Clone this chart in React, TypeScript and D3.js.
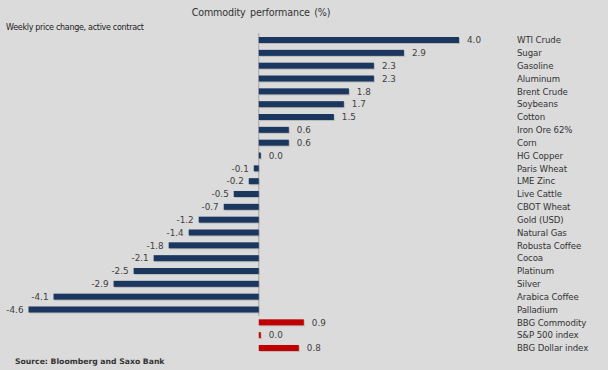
import React from "react";
import * as d3 from "d3";

// weekly price change, active contract (%)
const commodities = [
  "WTI Crude", "Sugar", "Gasoline", "Aluminum", "Brent Crude", "Soybeans", "Cotton",
  "Iron Ore 62%", "Corn", "HG Copper", "Paris Wheat", "LME Zinc", "Live Cattle",
  "CBOT Wheat", "Gold (USD)", "Natural Gas", "Robusta Coffee", "Cocoa", "Platinum",
  "Silver", "Arabica Coffee", "Palladium",
];
const commodityChange = [
  4.0, 2.9, 2.3, 2.3, 1.8, 1.7, 1.5, 0.6, 0.6, 0.0, -0.1, -0.2, -0.5, -0.7, -1.2,
  -1.4, -1.8, -2.1, -2.5, -2.9, -4.1, -4.6,
];
const benchmarks = ["BBG Commodity", "S&P 500 index", "BBG Dollar index"];
const benchmarkChange = [0.9, 0.0, 0.8];

const W = 608;
const H = 370;

export default function App() {
  const rows = [
    ...commodities.map((name, i) => ({ name, value: commodityChange[i], bench: false })),
    ...benchmarks.map((name, i) => ({ name, value: benchmarkChange[i], bench: true })),
  ];

  const x = d3.scaleLinear().domain([-4.6, 4.0]).range([28.5, 459]);
  const y = d3
    .scaleBand<string>()
    .domain(rows.map((r) => r.name))
    .range([33.6, 354.4])
    .paddingInner(0.52)
    .paddingOuter(0.26);

  const x0 = x(0);
  const bh = 6;
  // plain hyphen for negatives, like the source chart
  const fmt = (v: number) => d3.format(".1f")(v).replace("\u2212", "-");
  const font = "Tahoma, 'DejaVu Sans', sans-serif";

  const lastCommodity = commodities[commodities.length - 1];
  const axisBottom = (y(lastCommodity) ?? 0) + y.bandwidth() / 2 + 6.5;

  return (
    <svg
      width={W}
      height={H}
      style={{ position: "absolute", left: 0, top: 0 }}
      fontFamily={font}
    >
      <rect width={W} height={H} fill="#dbdbdb" />
      <text
        x={261}
        y={15.5}
        textAnchor="middle"
        fontSize={9.6}
        fill="#333"
        wordSpacing={1.5}
        letterSpacing={-0.15}
      >
        Commodity performance (%)
      </text>
      <text x={6} y={30} fontSize={8} fill="#222" letterSpacing={-0.3}>
        Weekly price change, active contract
      </text>

      <line x1={x0} x2={x0} y1={33} y2={axisBottom} stroke="#a6a6a6" strokeWidth={1} />

      {rows.map((r) => {
        const cy = (y(r.name) ?? 0) + y.bandwidth() / 2;
        const xv = x(r.value);
        const left = Math.min(x0, xv);
        const w = Math.max(Math.abs(xv - x0), 2);
        const color = r.bench ? "#c00000" : "#1b365f";
        const pos = r.value >= 0;
        return (
          <g key={r.name}>
            <rect x={left + 1} y={cy - bh / 2 + 1} width={w} height={bh} fill="#9a9a9a" opacity={0.5} />
            <rect x={left} y={cy - bh / 2} width={w} height={bh} fill={color} />
            <text
              x={pos ? Math.max(xv, x0 + 2) + 8 : xv - 5}
              y={cy + 3.2}
              textAnchor={pos ? "start" : "end"}
              fontSize={8.8}
              fill="#404040"
            >
              {fmt(r.value)}
            </text>
            <text x={517} y={cy + 3.2} fontSize={8.6} fill="#333" letterSpacing={-0.1}>
              {r.name}
            </text>
          </g>
        );
      })}

      <text x={15} y={364} fontSize={7.7} fontWeight="bold" fill="#333">
        Source: Bloomberg and Saxo Bank
      </text>
    </svg>
  );
}
